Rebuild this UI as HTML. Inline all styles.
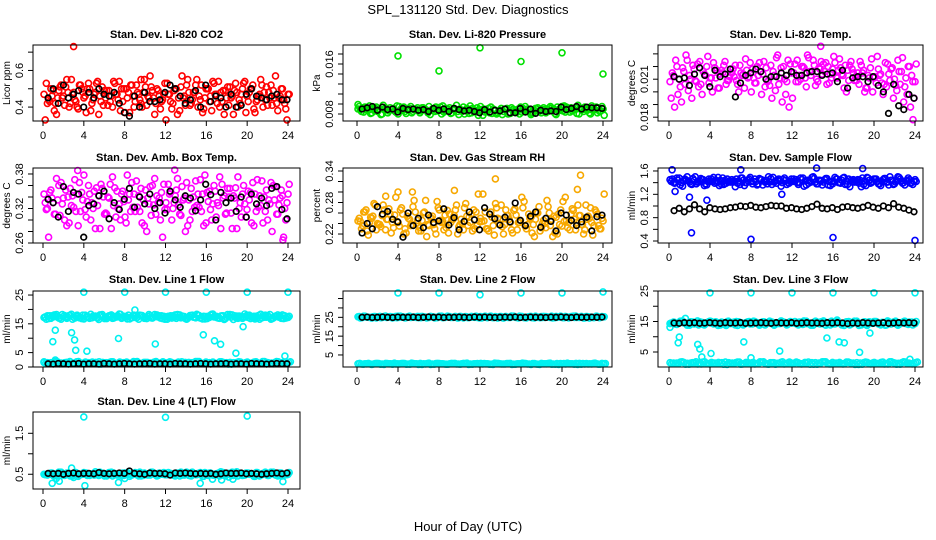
<!DOCTYPE html>
<html><head><meta charset="utf-8"><title>SPL_131120 Std. Dev. Diagnostics</title>
<style>
html,body{margin:0;padding:0;background:#fff;}
svg{display:block;font-family:"Liberation Sans",Arial,sans-serif;}
</style></head>
<body>
<svg id="chart" width="936" height="540" viewBox="0 0 936 540" xmlns="http://www.w3.org/2000/svg">
<rect width="936" height="540" fill="#fff"/>
<text x="468" y="14" font-size="13" text-anchor="middle" fill="#000">SPL_131120  Std. Dev. Diagnostics</text>
<text x="468" y="531" font-size="13" text-anchor="middle" fill="#000">Hour of Day (UTC)</text>
</svg>
<script>
// ---------- DATA ----------
const co2Red=[0.47,0.42,0.50,0.38,0.45,0.52,0.41,0.48,0.55,0.44,0.39,0.50,0.46,0.53,0.42,0.48,0.36,0.51,0.45,0.49,0.40,0.47,0.54,0.43,0.50,0.37,0.46,0.52,0.44,0.48,0.41,0.57,0.45,0.50,0.39,0.47,0.53,0.43,0.49,0.36,0.51,0.46,0.55,0.42,0.48,0.40,0.52,0.45,0.50,0.38,0.47,0.54,0.43,0.49,0.41,0.46,0.53,0.44,0.50,0.37,0.48,0.52,0.43,0.47,0.40,0.51,0.45,0.49,0.42,0.46,0.44,0.33];
const co2OutHours=[3.0,9.6];
const co2OutValues=[0.73,0.55];
const co2Black=[0.45,0.50,0.42,0.52,0.45,0.47,0.49,0.40,0.48,0.45,0.50,0.47,0.46,0.48,0.42,0.37,0.35,0.46,0.40,0.48,0.43,0.43,0.44,0.48,0.52,0.50,0.46,0.42,0.44,0.49,0.40,0.52,0.43,0.46,0.45,0.40,0.47,0.40,0.41,0.47,0.50,0.46,0.45,0.44,0.46,0.47,0.44,0.44];

const presGreen=[0.0088,0.0084,0.0091,0.0086,0.0082,0.0089,0.0087,0.0080,0.0090,0.0085,0.0088,0.0083,0.0092,0.0086,0.0081,0.0089,0.0084,0.0087,0.0082,0.0090,0.0086,0.0079,0.0088,0.0085,0.0091,0.0083,0.0087,0.0081,0.0089,0.0084,0.0086,0.0080,0.0088,0.0082,0.0085,0.0078,0.0087,0.0083,0.0089,0.0081,0.0086,0.0084,0.0079,0.0088,0.0082,0.0087,0.0085,0.0080,0.0089,0.0084,0.0086,0.0082,0.0088,0.0085,0.0090,0.0087,0.0092,0.0088,0.0091,0.0086,0.0093,0.0089,0.0090,0.0087,0.0094,0.0088,0.0091,0.0089,0.0093,0.0087,0.0090,0.0092];
const presOutHours=[0.1,4,8,12,16,20,24];
const presOutValues=[0.0095,0.0173,0.0149,0.0186,0.0164,0.0178,0.0144];
const presBlack=[0.0088,0.0090,0.0092,0.0086,0.0091,0.0087,0.0088,0.0083,0.0089,0.0087,0.0088,0.0086,0.0087,0.0084,0.0089,0.0086,0.0088,0.0084,0.0089,0.0087,0.0085,0.0086,0.0084,0.0082,0.0087,0.0083,0.0086,0.0085,0.0088,0.0082,0.0082,0.0089,0.0083,0.0088,0.0081,0.0086,0.0084,0.0085,0.0084,0.0091,0.0087,0.0089,0.0092,0.0088,0.0091,0.0090,0.0090,0.0089];

const tempMag=[0.0208,0.0213,0.0220,0.0204,0.0216,0.0225,0.0210,0.0218,0.0222,0.0206,0.0214,0.0228,0.0211,0.0219,0.0203,0.0217,0.0224,0.0209,0.0215,0.0221,0.0200,0.0213,0.0226,0.0212,0.0218,0.0207,0.0223,0.0214,0.0219,0.0205,0.0216,0.0227,0.0211,0.0220,0.0208,0.0222,0.0215,0.0225,0.0210,0.0219,0.0229,0.0213,0.0221,0.0208,0.0224,0.0216,0.0220,0.0211,0.0223,0.0217,0.0214,0.0221,0.0209,0.0218,0.0212,0.0206,0.0215,0.0203,0.0211,0.0200,0.0207,0.0213,0.0198,0.0204,0.0209,0.0195,0.0201,0.0206,0.0192,0.0198,0.0188,0.0195];
const tempOutHours=[14.8,23.8];
const tempOutValues=[0.0236,0.0178];
const tempBlack=[0.0212,0.0210,0.0211,0.0205,0.0214,0.0219,0.0213,0.0204,0.0217,0.0212,0.0214,0.0218,0.0196,0.0207,0.0213,0.0215,0.0218,0.0216,0.0210,0.0212,0.0212,0.0215,0.0213,0.0216,0.0213,0.0213,0.0215,0.0216,0.0216,0.0213,0.0214,0.0215,0.0208,0.0217,0.0203,0.0211,0.0212,0.0212,0.0208,0.0212,0.0205,0.0200,0.0183,0.0206,0.0189,0.0186,0.0198,0.0195];

const ambMag=[0.345,0.320,0.352,0.310,0.335,0.365,0.300,0.340,0.325,0.370,0.290,0.348,0.318,0.360,0.330,0.285,0.342,0.355,0.312,0.338,0.375,0.305,0.328,0.350,0.295,0.345,0.322,0.368,0.315,0.335,0.280,0.358,0.326,0.342,0.300,0.362,0.318,0.348,0.330,0.372,0.308,0.338,0.290,0.355,0.322,0.345,0.315,0.378,0.332,0.300,0.350,0.325,0.362,0.310,0.340,0.285,0.356,0.320,0.345,0.305,0.335,0.365,0.315,0.342,0.295,0.352,0.328,0.360,0.310,0.338,0.270,0.330];
const ambOutHours=[3.4,12.9,23.5];
const ambOutValues=[0.386,0.387,0.265];
const ambBlack=[0.336,0.330,0.305,0.358,0.315,0.348,0.345,0.270,0.325,0.328,0.342,0.350,0.302,0.330,0.318,0.336,0.355,0.322,0.340,0.328,0.345,0.320,0.330,0.312,0.350,0.335,0.322,0.342,0.338,0.316,0.335,0.362,0.344,0.300,0.348,0.330,0.338,0.315,0.340,0.305,0.345,0.328,0.338,0.325,0.355,0.358,0.318,0.302];

const rhOrange=[0.245,0.230,0.262,0.218,0.250,0.275,0.238,0.255,0.228,0.268,0.242,0.290,0.235,0.258,0.222,0.248,0.272,0.240,0.232,0.260,0.215,0.252,0.238,0.282,0.246,0.228,0.265,0.242,0.255,0.220,0.248,0.270,0.236,0.258,0.230,0.296,0.244,0.262,0.226,0.252,0.278,0.240,0.234,0.266,0.248,0.222,0.256,0.242,0.270,0.230,0.250,0.238,0.262,0.226,0.246,0.284,0.236,0.254,0.220,0.266,0.244,0.232,0.258,0.248,0.275,0.238,0.228,0.254,0.242,0.266,0.236,0.250];
const rhOutHours=[4.0,13.5,21.8,2.8,9.5,5.4,21.5];
const rhOutValues=[0.300,0.325,0.332,0.292,0.303,0.300,0.305];
const rhBlack=[0.222,0.240,0.230,0.272,0.258,0.263,0.248,0.243,0.214,0.260,0.236,0.250,0.232,0.256,0.242,0.245,0.268,0.237,0.251,0.228,0.244,0.262,0.247,0.228,0.270,0.258,0.249,0.237,0.252,0.243,0.279,0.246,0.236,0.254,0.262,0.233,0.250,0.244,0.226,0.260,0.256,0.246,0.236,0.243,0.252,0.226,0.253,0.256];

const flowBlue=[1.45,1.40,1.48,1.36,1.43,1.50,1.38,1.44,1.41,1.47,1.35,1.42,1.46,1.39,1.49,1.37,1.44,1.41,1.45,1.33,1.43,1.48,1.40,1.46,1.38,1.42,1.47,1.36,1.44,1.41,1.49,1.39,1.43,1.45,1.37,1.42,1.46,1.40,1.48,1.34,1.44,1.41,1.47,1.38,1.43,1.45,1.36,1.42,1.49,1.40,1.44,1.37,1.46,1.41,1.43,1.39,1.48,1.35,1.44,1.42,1.46,1.38,1.45,1.41,1.50,1.37,1.43,1.46,1.40,1.44,1.39,1.42];
const flowOutHours=[2.2,8.0,16.0,24.0,0.3,3.7,7.0,14.4,18.9,11.0,0.6,2.0];
const flowOutValues=[0.54,0.43,0.46,0.41,1.62,1.10,1.62,1.65,1.64,1.20,1.25,1.15];
const flowBlack=[0.92,0.96,0.90,0.95,1.02,0.95,0.90,0.97,0.95,0.94,0.95,0.97,0.98,1.00,0.99,1.01,0.98,0.97,0.99,1.01,1.00,1.00,0.96,0.97,0.95,0.94,0.96,0.99,1.03,0.96,0.95,0.97,0.94,0.98,0.99,0.97,0.96,0.98,1.01,0.98,0.96,1.00,0.97,1.04,0.98,0.96,0.93,0.90];

const line1High=[17.2,17.8,16.9,18.1,17.5,16.6,17.9,17.3,18.3,17.0,17.6,16.8,18.0,17.4,17.1,17.7,16.5,18.2,17.3,17.8,16.9,17.6,18.4,17.2,17.5,16.7,17.9,17.1,18.0,17.4,16.8,17.7,17.3,18.1,17.0,17.6,16.6,17.8,17.4,18.2,17.1,17.5,16.9,17.9,17.3,18.0,17.2,16.7,17.6,18.3,17.4,17.0,17.8,16.8,17.5,18.1,17.2,17.7,16.9,17.4,18.0,17.1,17.6,16.6,17.9,17.3,18.2,17.0,17.5,17.8,16.8,17.4];
const line1Low=[1.6,1.3,1.8,1.1,1.5,1.9,1.2,1.4,1.7,1.3,1.6,1.0,1.5,1.8,1.2,1.4,1.7,1.3,1.9,1.1,1.6,1.4,1.2,1.8,1.5,1.3,1.7,1.1,1.6,1.4,1.9,1.2,1.5,1.3,1.8,1.4,1.6,1.1,1.7,1.5,1.3,1.8,1.2,1.6,1.4,1.9,1.5,1.3];
const line1OutHours=[4,8,12,16,20,24,0.96,1.2,2.8,3.1,3.2,4.3,7.4,11.0,15.7,16.8,17.4,18.9,19.6,23.7,1.2,9.0,0.1];
const line1OutValues=[26,26,26,26,26,26,8.8,12.8,11.9,9.4,5.8,5.5,9.9,8.0,11.2,9.1,7.9,4.8,14.0,3.8,2.4,19.8,1.8];
const line1Black=[1.1,1.0,1.2,1.1,1.0,1.1,1.2,1.0,1.1,1.1,1.0,1.2,1.1,1.0,1.1,1.2,1.1,1.0,1.1,1.1,1.2,1.0,1.1,1.1,1.0,1.2,1.1,1.1,1.0,1.1,1.2,1.1,1.0,1.1,1.1,1.2,1.0,1.1,1.1,1.0,1.2,1.1,1.1,1.0,1.1,1.2,1.1,1.1];

const line2High=[25.3,24.8,25.6,25.0,24.6,25.4,25.1,24.9,25.7,25.2,24.7,25.5,25.0,25.3,24.8,25.6,25.1,24.9,25.4,25.0,24.7,25.5,25.2,24.8,25.3,25.0,25.6,24.9,25.2,24.6,25.4,25.1,24.8,25.5,25.0,25.3,24.7,25.6,25.1,24.9,25.4,25.2,24.8,25.5,25.0,25.3,24.9,25.6,25.1,24.7,25.4,25.0,25.2,24.8,25.5,25.1,24.9,25.3,25.0,25.6,24.8,25.2,25.4,24.9,25.1,25.5,24.7,25.3,25.0,25.2,24.9,25.4];
const line2Low=[0.3,0.1,0.5,0.2,0.4,0.0,0.3,0.6,0.2,0.4,0.1,0.3,0.5,0.2,0.0,0.4,0.3,0.1,0.5,0.2,0.3,0.6,0.1,0.4,0.2,0.3,0.0,0.5,0.2,0.4,0.1,0.3,0.5,0.2,0.4,0.0,0.3,0.6,0.1,0.4,0.2,0.3,0.5,0.1,0.4,0.2,0.3,0.5];
const line2OutHours=[4,8,12,16,20,24];
const line2OutValues=[38,38,37,38,38,38.5];
const line2Black=[25.0,25.1,24.9,25.0,25.2,25.0,24.9,25.1,25.0,25.0,25.1,24.9,25.0,25.2,25.0,25.1,24.9,25.0,25.0,25.1,25.0,24.9,25.2,25.0,25.1,25.0,24.9,25.0,25.1,25.0,25.2,24.9,25.0,25.1,25.0,25.0,24.9,25.1,25.0,25.2,25.0,24.9,25.1,25.0,25.0,25.1,25.0,25.1];

const line3High=[14.3,14.8,14.0,15.1,14.5,13.8,14.9,14.2,15.2,14.6,13.9,14.7,15.0,14.4,13.7,14.8,14.1,15.1,14.5,13.9,14.9,14.3,14.6,15.0,14.2,14.7,13.8,14.9,14.4,15.1,14.0,14.6,14.3,14.8,13.9,15.0,14.5,14.1,14.7,15.2,14.3,13.8,14.8,14.4,14.9,14.0,14.6,15.1,14.2,14.7,13.9,14.5,15.0,14.3,14.8,13.7,14.6,14.1,14.9,14.4,15.0,14.2,14.7,13.9,14.5,14.8,14.1,14.6,15.0,14.3,14.7,14.5];
const line3Low=[1.5,1.2,1.7,1.0,1.4,1.8,1.1,1.3,1.6,1.2,1.5,0.9,1.4,1.7,1.1,1.3,1.6,1.2,1.8,1.0,1.5,1.3,1.1,1.7,1.4,1.2,1.6,1.0,1.5,1.3,1.8,1.1,1.4,1.2,1.7,1.3,1.5,1.0,1.6,1.4,1.2,1.7,1.1,1.5,1.3,1.8,1.4,1.2];
const line3OutHours=[4,8,12,16,20,24,0.1,0.9,1.0,2.8,3.0,3.2,4.1,7.3,8.0,10.8,15.4,16.6,17.1,18.6,19.6,23.5,1.6,16.4];
const line3OutValues=[24.4,24.4,24.4,24.4,24.4,24.4,13.1,8.0,9.9,7.5,6.0,3.4,4.5,8.3,3.1,5.3,9.6,8.3,8.0,4.9,11.2,2.6,16.0,15.5];
const line3Black=[14.5,14.4,14.6,14.5,14.6,14.4,14.5,14.6,14.5,14.4,14.6,14.5,14.5,14.6,14.4,14.5,14.5,14.6,14.5,14.4,14.6,14.5,14.5,14.6,14.4,14.5,14.6,14.5,14.5,14.4,14.6,14.5,14.6,14.5,14.3,14.5,14.4,14.6,14.5,14.4,14.5,14.6,14.4,14.5,14.6,14.5,14.6,14.5];

const line4Cyan=[0.50,0.48,0.53,0.46,0.51,0.55,0.47,0.52,0.49,0.54,0.45,0.50,0.53,0.48,0.51,0.56,0.47,0.52,0.49,0.54,0.46,0.51,0.48,0.53,0.50,0.45,0.52,0.49,0.55,0.47,0.51,0.48,0.53,0.46,0.50,0.54,0.49,0.52,0.47,0.51,0.55,0.48,0.53,0.46,0.50,0.52,0.49,0.54,0.47,0.51,0.48,0.53,0.50,0.46,0.52,0.55,0.49,0.51,0.47,0.53,0.50,0.48,0.54,0.46,0.52,0.49,0.51,0.55,0.48,0.53,0.50,0.49];
const line4OutHours=[4,12,20,0.9,1.3,1.6,2.8,3.0,4.1,7.4,8.0,15.4,16.6,17.5,18.2,18.6,23.5];
const line4OutValues=[1.90,1.89,1.92,0.28,0.40,0.33,0.65,0.42,0.22,0.30,0.40,0.28,0.38,0.36,0.43,0.38,0.32];
const line4Black=[0.52,0.51,0.52,0.50,0.52,0.53,0.51,0.52,0.52,0.51,0.54,0.52,0.51,0.52,0.53,0.52,0.58,0.52,0.51,0.50,0.53,0.52,0.52,0.51,0.48,0.53,0.52,0.53,0.52,0.51,0.52,0.51,0.52,0.50,0.51,0.53,0.52,0.52,0.53,0.51,0.52,0.51,0.50,0.51,0.52,0.53,0.51,0.53];

const xTicks=[0,4,8,12,16,20,24];

// ---------- LAYOUT ----------
const cols=[{l:33,r:300,x0:43,x24:288},{l:343,r:612,x0:357,x24:603},{l:658,r:923,x0:669,x24:915}];
const rows=[{t:45,b:121,ty:38},{t:168,b:243,ty:161},{t:291,b:367,ty:283},{t:412,b:489,ty:405}];

function spread(n,a,b){const o=[];for(let i=0;i<n;i++)o.push(a+(b-a)*i/(n-1));return o;}

const CY='#00f0f0';
const panels=[
 {c:0,r:0,name:'co2',title:'Stan. Dev. Li-820 CO2',ylab:'Licor ppm',ymin:0.324,ymax:0.739,ticks:[0.4,0.5,0.6,0.7],labels:[0.4,0.6],dec:1,
  series:[{v:co2Red,col:'#ff0000',dense:true},{h:co2OutHours,v:co2OutValues,col:'#ff0000'},{v:co2Black,col:'#000',black:true}]},
 {c:1,r:0,name:'pressure',title:'Stan. Dev. Li-820 Pressure',ylab:'kPa',ymin:0.00688,ymax:0.01904,ticks:[0.008,0.0096,0.0112,0.0128,0.0144,0.016,0.0176],labels:[0.008,0.016],dec:3,
  series:[{v:presGreen,col:'#00e000',dense:true},{h:presOutHours,v:presOutValues,col:'#00e000'},{v:presBlack,col:'#000',black:true}]},
 {c:2,r:0,name:'li820-temp',title:'Stan. Dev. Li-820 Temp.',ylab:'degrees C',ymin:0.0177,ymax:0.0237,ticks:[0.018,0.019,0.020,0.021,0.022,0.023],labels:[0.018,0.021],dec:3,
  series:[{v:tempMag,col:'#ff00ff',dense:true},{h:tempOutHours,v:tempOutValues,col:'#ff00ff'},{v:tempBlack,col:'#000',black:true}]},
 {c:0,r:1,name:'amb-temp',title:'Stan. Dev. Amb. Box Temp.',ylab:'degrees C',ymin:0.26,ymax:0.3904,ticks:[0.26,0.28,0.30,0.32,0.34,0.36,0.38],labels:[0.26,0.32,0.38],dec:2,
  series:[{v:ambMag,col:'#ff00ff',dense:true},{h:ambOutHours,v:ambOutValues,col:'#ff00ff'},{v:ambBlack,col:'#000',black:true}]},
 {c:1,r:1,name:'gas-rh',title:'Stan. Dev. Gas Stream RH',ylab:'percent',ymin:0.2029,ymax:0.3457,ticks:[0.22,0.24,0.26,0.28,0.30,0.32,0.34],labels:[0.22,0.28,0.34],dec:2,
  series:[{v:rhOrange,col:'#f7a800',dense:true},{h:rhOutHours,v:rhOutValues,col:'#f7a800'},{v:rhBlack,col:'#000',black:true}]},
 {c:2,r:1,name:'sample-flow',title:'Stan. Dev. Sample Flow',ylab:'ml/min',ymin:0.366,ymax:1.651,ticks:[0.4,0.6,0.8,1.0,1.2,1.4,1.6],labels:[0.4,0.8,1.2,1.6],dec:1,
  series:[{v:flowBlue,col:'#0000ff',dense:true},{h:flowOutHours,v:flowOutValues,col:'#0000ff'},{v:flowBlack,col:'#000',black:true}]},
 {c:0,r:2,name:'line1-flow',title:'Stan. Dev. Line 1 Flow',ylab:'ml/min',ymin:0,ymax:26.4,ticks:[0,5,10,15,20,25],labels:[0,5,15,25],dec:0,
  series:[{v:line1High,col:CY,dense:true},{v:line1Low,col:CY,dense:true},{h:line1OutHours,v:line1OutValues,col:CY},{v:line1Black,col:'#000',black:true}]},
 {c:1,r:2,name:'line2-flow',title:'Stan. Dev. Line 2 Flow',ylab:'ml/min',ymin:-1.4,ymax:39,ticks:[5,10,15,20,25,30,35],labels:[5,15,25],dec:0,
  series:[{v:line2High,col:CY,dense:true},{v:line2Low,col:CY,dense:true},{h:line2OutHours,v:line2OutValues,col:CY},{v:line2Black,col:'#000',black:true}]},
 {c:2,r:2,name:'line3-flow',title:'Stan. Dev. Line 3 Flow',ylab:'ml/min',ymin:0.08,ymax:25,ticks:[5,10,15,20,25],labels:[5,15,25],dec:0,
  series:[{v:line3High,col:CY,dense:true},{v:line3Low,col:CY,dense:true},{h:line3OutHours,v:line3OutValues,col:CY},{v:line3Black,col:'#000',black:true}]},
 {c:0,r:3,name:'line4-flow',title:'Stan. Dev. Line 4 (LT) Flow',ylab:'ml/min',ymin:0.14,ymax:2.02,ticks:[0.5,1.0,1.5],labels:[0.5,1.5],dec:1,
  series:[{v:line4Cyan,col:CY,dense:true},{h:line4OutHours,v:line4OutValues,col:CY},{v:line4Black,col:'#000',black:true}]}
];

const NS='http://www.w3.org/2000/svg';
const svg=document.getElementById('chart');
function mk(tag,attrs,parent){const e=document.createElementNS(NS,tag);for(const k in attrs)e.setAttribute(k,attrs[k]);(parent||svg).appendChild(e);return e;}
function fmt(v,dec){return dec===0?String(v):v.toFixed(dec);}

panels.forEach(p=>{
  const C=cols[p.c],R=rows[p.r];
  const xs=h=>C.x0+(C.x24-C.x0)*h/24;
  const ys=v=>R.b-(v-p.ymin)/(p.ymax-p.ymin)*(R.b-R.t);
  const g=mk('g',{});
  
  
  const t=mk('text',{x:(C.l+C.r)/2,y:R.ty,'font-size':11,'font-weight':'bold','text-anchor':'middle',fill:'#000'},g);
  
  
  t.textContent=p.title;
  const clipId='clip-'+p.name;
  const cp=mk('clipPath',{id:clipId},g);mk('rect',{x:C.l-4,y:R.t-4,width:C.r-C.l+8,height:R.b-R.t+8},cp);
  const pg=mk('g',{'clip-path':'url(#'+clipId+')'},g);
  
  
  function dot(h,v,col,black){
    const c=mk('circle',{cx:xs(h).toFixed(1),cy:ys(v).toFixed(1),r:black?2.8:3,fill:'none',stroke:col,'stroke-width':black?1.7:1.6},pg);
    
    
  }
  p.series.forEach(s=>{
    const n=s.v.length;
    const hrs=s.h||spread(n,s.black?0.5:0.1,23.9);
    if(s.dense){
      // each 20-minute record drawn with its sub-interval samples (values paired across the day)
      const step=(hrs[1]-hrs[0]);
      s.v.forEach((v,i)=>{
        dot(hrs[i],v,s.col,false);
        dot(hrs[i]+step*0.33,s.v[n-1-i],s.col,false);
        dot(hrs[i]+step*0.66,s.v[(i+Math.floor(n/2))%n],s.col,false);
      });
    } else {
      s.v.forEach((v,i)=>dot(hrs[i],v,s.col,!!s.black));
    }
  });
  const b=mk('rect',{x:C.l,y:R.t,width:C.r-C.l,height:R.b-R.t,fill:'none',stroke:'#000','stroke-width':1},g);
  
  
  const xa=mk('g',{},g);
  
  
  xTicks.forEach(h=>{
    const x=xs(h);
    mk('line',{x1:x,x2:x,y1:R.b,y2:R.b+5,stroke:'#000'},xa);
    const lt=mk('text',{x:x,y:R.b+18,'font-size':11,'text-anchor':'middle',fill:'#000'},xa);
    
    
    lt.textContent=h;
  });
  const ya=mk('g',{},g);
  
  
  p.ticks.forEach(v=>{
    const y=ys(v);
    mk('line',{x1:C.l-5,x2:C.l,y1:y,y2:y,stroke:'#000'},ya);
  });
  p.labels.forEach(v=>{
    const y=ys(v);
    const lt=mk('text',{x:C.l-10,y:y,'font-size':11,'text-anchor':'middle',fill:'#000',transform:'rotate(-90 '+(C.l-10)+' '+y+')'},ya);
    
    
    lt.textContent=fmt(v,p.dec);
  });
  const ym=(R.t+R.b)/2,yx=C.l-23;
  const yl=mk('text',{x:yx,y:ym,'font-size':10,'text-anchor':'middle',fill:'#000',transform:'rotate(-90 '+yx+' '+ym+')'},ya);
  
  
  yl.textContent=p.ylab;
});
</script>
</body></html>
